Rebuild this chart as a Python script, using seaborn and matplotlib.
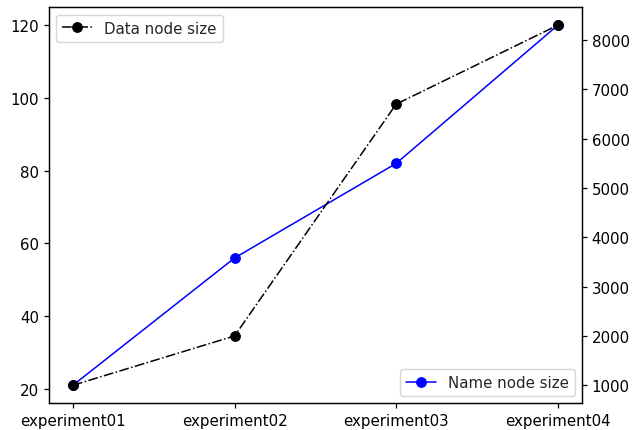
import matplotlib
matplotlib.use('Agg')
import matplotlib.pyplot as plt
import seaborn as sns
import pandas as pd

experiments = ['experiment01', 'experiment02', 'experiment03', 'experiment04']
name_node_size = [21, 56, 82, 120]
data_node_size = [1000, 2000, 6700, 8300]

df = pd.DataFrame({'experiment': experiments,
                   'name': name_node_size,
                   'data': data_node_size})

sns.set_style('ticks')
plt.rcParams['font.family'] = ['DejaVu Sans']
plt.rcParams['font.size'] = 10.8

fig, ax1 = plt.subplots(figsize=(6.32, 4.31), dpi=100)
fig.subplots_adjust(left=0.077, right=0.921, bottom=0.062, top=0.981)

sns.lineplot(data=df, x='experiment', y='name', ax=ax1, color='blue',
             marker='o', markersize=7, markeredgecolor='blue', linewidth=1.1,
             sort=False, label='Name node size')
ax1.legend(loc='lower right', fontsize=10.8)
ax1.set_xlabel('')
ax1.set_ylabel('')

ax2 = ax1.twinx()
sns.lineplot(data=df, x='experiment', y='data', ax=ax2, color='black',
             marker='o', markersize=7, markeredgecolor='black', linewidth=1.1,
             linestyle='-.', sort=False, label='Data node size')
ax2.legend(loc='upper left', fontsize=10.8)
ax2.set_ylabel('')

for ax in (ax1, ax2):
    for s in ax.spines.values():
        s.set_visible(True)
        s.set_color('black')
        s.set_linewidth(0.9)
    ax.tick_params(length=3.5, width=0.9, colors='black', labelsize=10.8)

fig.savefig('out.png', dpi=100)
